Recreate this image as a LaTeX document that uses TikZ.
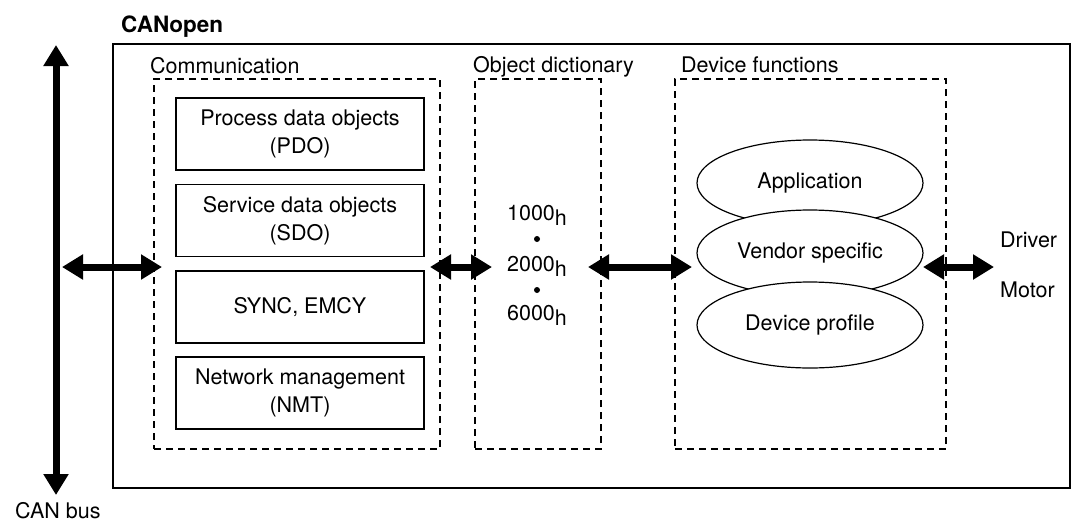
\documentclass[tikz,border=0pt]{standalone}
\usepackage{fontspec}
\setmainfont{TeX Gyre Heros}
\usetikzlibrary{arrows.meta,shapes.geometric}
\begin{document}
\begin{tikzpicture}[x=1pt,y=-1pt,
  every node/.style={font=\fontsize{21.5}{28}\selectfont, inner sep=0pt},
  solidbox/.style={draw, line width=1.3pt, rectangle, align=center},
  dashbox/.style={draw, line width=1.3pt, dash pattern=on 7pt off 5pt, rectangle},
  oval/.style={draw, line width=1.2pt, ellipse, fill=white, minimum width=226pt, minimum height=86pt},
  bigarrow/.style={line width=7pt, {Triangle[length=21pt,width=24pt]}-{Triangle[length=21pt,width=24pt]}},
  lbl/.style={anchor=base west},
  dot/.style={circle, fill=black, minimum size=6pt}
]
\useasboundingbox (0,0) rectangle (1075,523);
% outer box
\node[draw, line width=1.3pt, minimum width=957pt, minimum height=444pt] (outer) at (591.5,266) {};
\node[lbl, font=\fontsize{22.5}{26}\selectfont\bfseries] (canopen) at (121,32) {CANopen};
% dashed groups
\node[dashbox, minimum width=286pt, minimum height=370pt] (comm) at (297,264) {};
\node[dashbox, minimum width=126pt, minimum height=370pt] (dict) at (538,264) {};
\node[dashbox, minimum width=271pt, minimum height=370pt] (dev) at (810.5,264) {};
\node[lbl] (commlbl) at (150,73) {Communication};
\node[lbl] (dictlbl) at (473,72) {Object dictionary};
\node[lbl] (devlbl) at (681,72) {Device functions};
% communication boxes
\node[solidbox, minimum width=248pt, minimum height=72pt] (pdo) at (300,134) {Process data objects\\(PDO)};
\node[solidbox, minimum width=248pt, minimum height=72pt] (sdo) at (300,220.5) {Service data objects\\(SDO)};
\node[solidbox, minimum width=248pt, minimum height=72pt] (sync) at (300,307) {SYNC, EMCY};
\node[solidbox, minimum width=248pt, minimum height=72pt] (nmt) at (300,393) {Network management\\(NMT)};
% object dictionary entries
\node[anchor=base] (i1000) at (537,220) {1000\raisebox{-5pt}{h}};
\node[dot] (d1) at (537,239) {};
\node[anchor=base] (i2000) at (537,271) {2000\raisebox{-5pt}{h}};
\node[dot] (d2) at (537,290) {};
\node[anchor=base] (i6000) at (537,320) {6000\raisebox{-5pt}{h}};
% device function ellipses
\node[oval] (app) at (810,183) {Application};
\node[oval] (vendor) at (810,253) {Vendor specific};
\node[oval] (profile) at (810,325) {Device profile};
% right labels
\node[lbl] (driver) at (1000,247) {Driver};
\node[lbl] (motor) at (1000,297) {Motor};
% CAN bus
\coordinate (bustop) at (56,45);
\coordinate (busbot) at (56,495);
\draw[bigarrow] (bustop) -- (busbot);
\node[lbl] (canbus) at (15,518) {CAN bus};
% horizontal arrows
\coordinate (a1s) at (62,267);
\coordinate (a1e) at (162,267);
\coordinate (a2s) at (430,267);
\coordinate (a2e) at (492,267);
\coordinate (a3s) at (588,267);
\coordinate (a3e) at (692,267);
\coordinate (a4s) at (923,267);
\coordinate (a4e) at (994,267);
\draw[bigarrow] (a1s) -- (a1e);
\draw[bigarrow] (a2s) -- (a2e);
\draw[bigarrow] (a3s) -- (a3e);
\draw[bigarrow] (a4s) -- (a4e);
\end{tikzpicture}
\end{document}
